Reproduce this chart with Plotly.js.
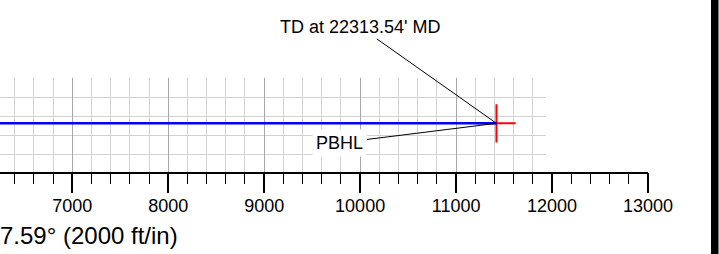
<!DOCTYPE html>
<html>
<head>
<meta charset="utf-8">
<script src="https://cdn.plot.ly/plotly-3.0.1.min.js"></script>
<style>html,body{margin:0;padding:0;background:#fff;}#chart{width:719px;height:254px;}</style>
</head>
<body>
<div id="chart"></div>
<script>
// ---- data ----
const wellVS = [5800, 11421];          // vertical section (ft)
const wellTVD = [11474, 11474];        // true vertical depth (ft)
const pbhlVS = [11421];
const pbhlTVD = [11474];
const majorStep = 1000;                // ft between labelled ticks
const minorStep = 200;                 // ft between minor ticks / grid
const tdLabel = "TD at 22313.54' MD";
const pbhlLabel = 'PBHL';
const titleText = '7.59° (2000 ft/in)';

const FONT = 'Liberation Sans, Arial, sans-serif';
const lastI = wellVS.length - 1;
const XR = [6247, 13000];

const traces = [
  {
    x: pbhlVS, y: pbhlTVD, xaxis: 'x', yaxis: 'y', type: 'scatter', mode: 'markers', hoverinfo: 'skip',
    marker: {symbol: 'cross-thin', size: 27.4, color: '#ff0000', line: {color: '#ff0000', width: 2}}
  },
  {
    x: wellVS, y: wellTVD, xaxis: 'x2', yaxis: 'y', type: 'scatter', mode: 'lines', hoverinfo: 'skip',
    line: {color: '#0000ff', width: 2.5}
  }
];

const layout = {
  width: 719, height: 254,
  margin: {l: 0, r: 71, t: 78, b: 82, pad: 0},
  paper_bgcolor: '#ffffff', plot_bgcolor: '#ffffff',
  showlegend: false,
  font: {family: FONT, size: 18, color: '#000'},
  // minor ticks + light grid
  xaxis: {
    range: XR,
    tickmode: 'linear', tick0: 0, dtick: minorStep,
    ticks: 'outside', ticklen: 10, tickwidth: 1, tickcolor: '#000',
    showticklabels: false,
    showline: true, linecolor: '#000', linewidth: 2,
    showgrid: true, gridcolor: '#d2d2d2', gridwidth: 1,
    zeroline: false
  },
  // major ticks + labels + darker grid
  xaxis2: {
    range: XR, overlaying: 'x', anchor: 'y', side: 'bottom',
    tickmode: 'linear', tick0: 0, dtick: majorStep, tickformat: 'd',
    ticks: 'outside', ticklen: 20, tickwidth: 2, tickcolor: '#000',
    ticklabelstandoff: -3,
    showline: false,
    showgrid: true, gridcolor: '#a8a8a8', gridwidth: 1,
    zeroline: false,
    tickfont: {family: FONT, size: 18, color: '#000'}
  },
  yaxis: {
    range: [11983, 11000],
    tickmode: 'linear', dtick: majorStep, tick0: 0,
    showticklabels: false, ticks: '', showline: false, zeroline: false,
    showgrid: true, gridcolor: '#a8a8a8', gridwidth: 1,
    minor: {tickmode: 'linear', dtick: minorStep, tick0: 0, showgrid: true, gridcolor: '#d2d2d2', gridwidth: 1}
  },
  shapes: [
    {type: 'rect', xref: 'x', yref: 'y', x0: 11937, x1: 13200, y0: 10800, y1: 12200,
     fillcolor: '#ffffff', line: {width: 0}, layer: 'between'},
    {type: 'rect', xref: 'paper', yref: 'paper', x0: 711/648, x1: 718/648, y0: -1, y1: 2,
     fillcolor: '#000000', line: {width: 0}},
    {type: 'rect', xref: 'paper', yref: 'paper', x0: 718/648, x1: 719/648, y0: -1, y1: 2,
     fillcolor: '#808080', line: {width: 0}}
  ],
  annotations: [
    {x: wellVS[lastI], y: wellTVD[lastI], xref: 'x', yref: 'y', text: tdLabel,
     showarrow: true, arrowhead: 0, arrowwidth: 1, arrowcolor: '#000',
     ax: -136, ay: -96, font: {family: FONT, size: 18, color: '#000'}},
    {x: pbhlVS[0], y: pbhlTVD[0], xref: 'x', yref: 'y', text: pbhlLabel,
     showarrow: true, arrowhead: 0, arrowwidth: 1, arrowcolor: '#000',
     ax: -156.5, ay: 19.5, bgcolor: '#ffffff', borderpad: 3,
     font: {family: FONT, size: 18, color: '#000'}},
    {x: 180/648, y: (172 - 235.5)/94, xref: 'paper', yref: 'paper', text: titleText,
     showarrow: false, xanchor: 'right', yanchor: 'middle',
     font: {family: FONT, size: 24, color: '#000'}}
  ]
};

Plotly.newPlot('chart', traces, layout, {staticPlot: true, displayModeBar: false});
</script>
</body>
</html>
